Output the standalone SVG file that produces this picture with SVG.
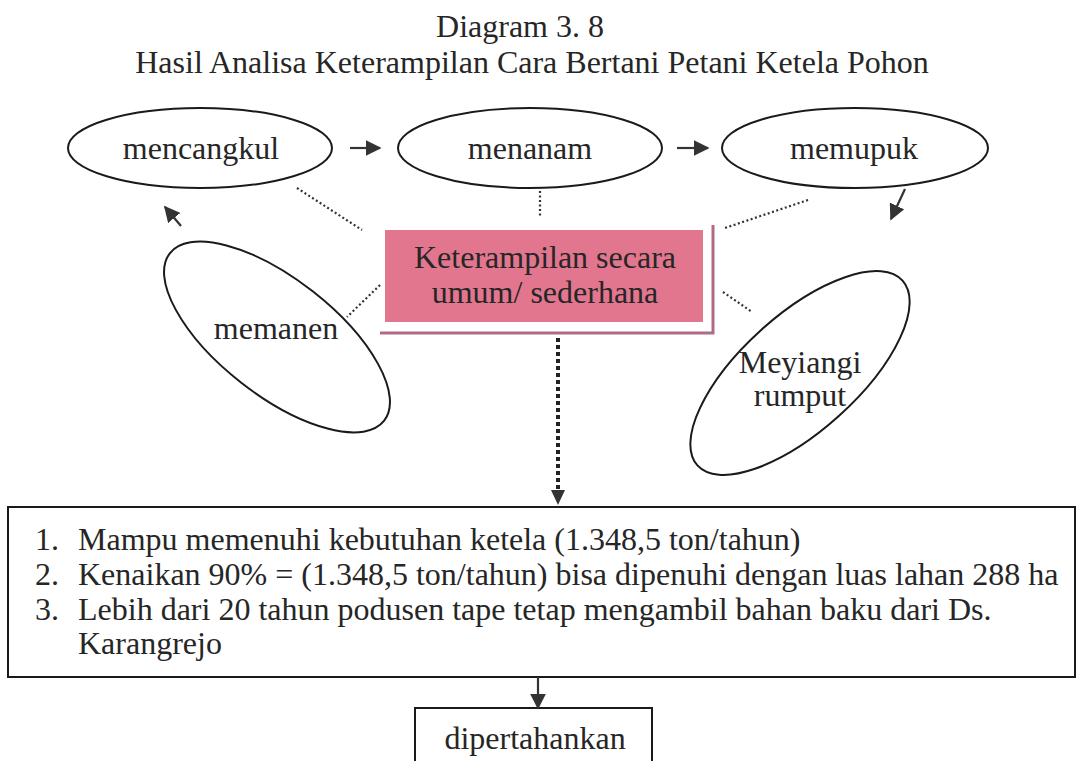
<svg xmlns="http://www.w3.org/2000/svg" width="1080" height="761" viewBox="0 0 1080 761">
<style>
text{font-family:"Liberation Serif","Times New Roman",serif;fill:#262626;font-size:32px}
.c{text-anchor:middle}
.node{fill:#fff;stroke:#1a1a1a;stroke-width:2}
.dot{stroke:#333;stroke-width:2.2;stroke-dasharray:2 2.5;fill:none}
.arr{stroke:#333;stroke-width:2.2;fill:none}
</style>
<defs>
<marker id="ah" viewBox="0 0 10 10" refX="9" refY="5" markerWidth="16" markerHeight="16" markerUnits="userSpaceOnUse" orient="auto">
<path d="M0,0 L10,5 L0,10 z" fill="#333"/>
</marker>
</defs>
<rect width="1080" height="761" fill="#fff"/>
<text class="c" x="520" y="37">Diagram 3. 8</text>
<text class="c" x="532" y="73">Hasil Analisa Keterampilan Cara Bertani Petani Ketela Pohon</text>

<g id="mencangkul">
<ellipse class="node" cx="200" cy="148" rx="132" ry="40"/>
<text class="c" x="201" y="159">mencangkul</text>
</g>
<g id="menanam">
<ellipse class="node" cx="530" cy="148" rx="132" ry="40"/>
<text class="c" x="530" y="159">menanam</text>
</g>
<g id="memupuk">
<ellipse class="node" cx="855" cy="148" rx="133" ry="40"/>
<text class="c" x="854" y="159">memupuk</text>
</g>
<g id="keterampilan">
<polyline points="380,333 713,333 713,225" fill="none" stroke="#b06a86" stroke-width="3"/>
<rect x="385" y="230" width="318" height="92" fill="#e3768f"/>
<text class="c" x="545" y="268">Keterampilan secara</text>
<text class="c" x="545" y="303">umum/ sederhana</text>
</g>
<g id="memanen">
<ellipse class="node" cx="277" cy="337" rx="136" ry="58" transform="rotate(38 277 337)"/>
<text class="c" x="276" y="339">memanen</text>
</g>
<g id="meyiangi">
<ellipse class="node" cx="800" cy="373" rx="138" ry="58" transform="rotate(-42 800 373)"/>
<text class="c" x="800" y="373">Meyiangi</text>
<text class="c" x="800" y="406">rumput</text>
</g>
<g id="hasil">
<rect x="8" y="507" width="1067" height="170" fill="#fff" stroke="#1a1a1a" stroke-width="2"/>
<text x="35" y="550">1.</text>
<text x="78" y="550">Mampu memenuhi kebutuhan ketela (1.348,5 ton/tahun)</text>
<text x="35" y="585">2.</text>
<text x="78" y="585">Kenaikan 90% = (1.348,5 ton/tahun) bisa dipenuhi dengan luas lahan 288 ha</text>
<text x="35" y="620">3.</text>
<text x="78" y="620">Lebih dari 20 tahun podusen tape tetap mengambil bahan baku dari Ds.</text>
<text x="78" y="654">Karangrejo</text>
</g>
<g id="dipertahankan">
<rect x="415" y="708" width="237" height="70" fill="#fff" stroke="#1a1a1a" stroke-width="2"/>
<text class="c" x="535" y="749">dipertahankan</text>
</g>

<g id="connectors">
<line class="arr" x1="350" y1="148" x2="380" y2="148" marker-end="url(#ah)"/>
<line class="arr" x1="677" y1="148" x2="708" y2="148" marker-end="url(#ah)"/>
<line class="arr" x1="905" y1="189" x2="891" y2="219" marker-end="url(#ah)"/>
<line class="arr" x1="181" y1="226" x2="165" y2="207" marker-end="url(#ah)"/>
<line class="dot" x1="297" y1="188" x2="362" y2="230"/>
<line class="dot" x1="540" y1="191" x2="540" y2="216"/>
<line class="dot" x1="808" y1="200" x2="725" y2="228"/>
<line class="dot" x1="380" y1="285" x2="347" y2="317"/>
<line class="dot" x1="723" y1="292" x2="752" y2="312"/>
<line x1="558" y1="338" x2="558" y2="492" stroke="#222" stroke-width="4" stroke-dasharray="4 3"/>
<path d="M551,490 L565,490 L558,505 z" fill="#333"/>
<line class="arr" x1="538" y1="677" x2="538" y2="708" marker-end="url(#ah)"/>
</g>
</svg>
